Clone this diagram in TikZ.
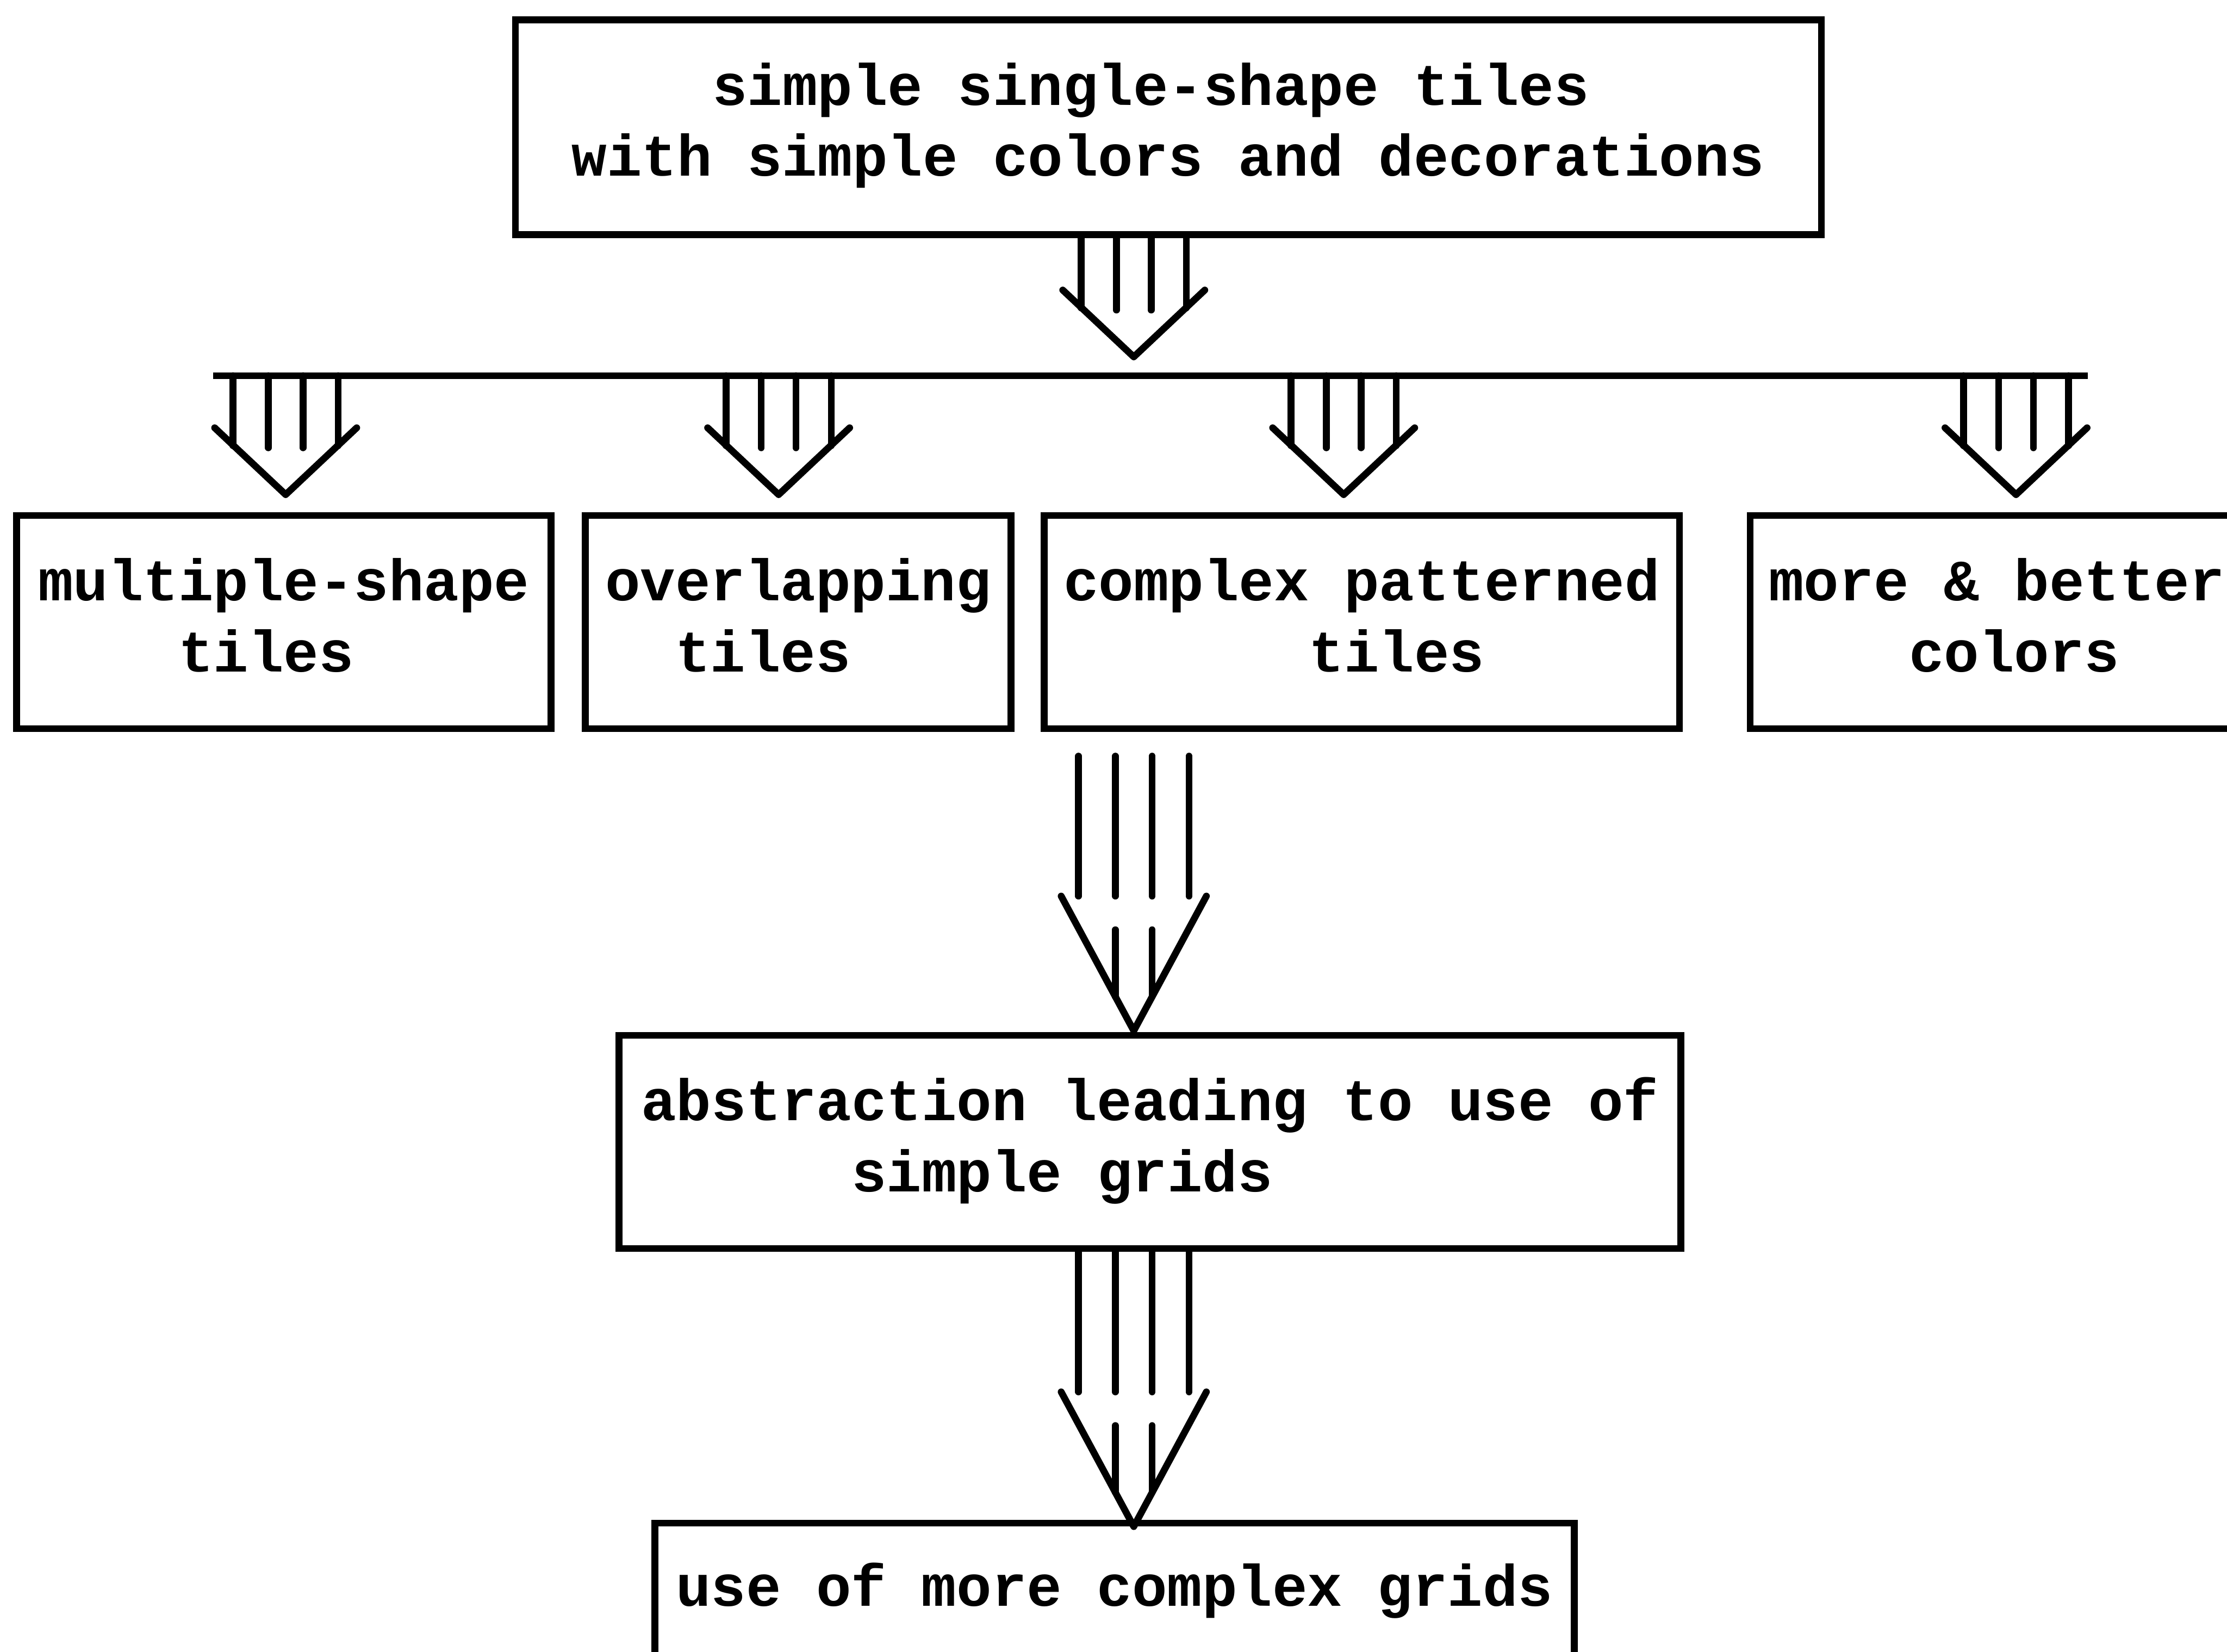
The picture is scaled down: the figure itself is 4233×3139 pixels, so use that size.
\documentclass[tikz,border=0pt]{standalone}
\usepackage{fontspec}
\newfontfamily\tilefont{Liberation Mono}

\begin{document}
\begin{tikzpicture}[
x=0.01cm, y=-0.01cm,
box/.style={
  draw,
  line width=3.7pt,
  anchor=north west,
  align=left,
  inner sep=0pt,
  text height=2.97cm,
  text depth=1.08cm,
  font=\tilefont\bfseries\fontsize{31.6pt}{38.4pt}\selectfont
},
stem/.style={line width=3.7pt, line cap=round, line join=round},
shortarrow/.pic={
  \draw [stem] (-100,0) -- (-100,133);
  \draw [stem] (100,0) -- (100,133);
  \draw [stem] (-33,0) -- (-33,137);
  \draw [stem] (33,0) -- (33,137);
  \draw [stem] (-135,99) -- (0,226) -- (135,99);
},
longarrow/.pic={
  \draw [stem] (-105,0) -- (-105,266);
  \draw [stem] (-35,0) -- (-35,266);
  \draw [stem] (35,0) -- (35,266);
  \draw [stem] (105,0) -- (105,266);
  \draw [stem] (-138,266) -- (0,522) -- (138,266);
  \draw [stem] (-35,330) -- (-35,457);
  \draw [stem] (35,330) -- (35,457);
}
]
\clip (7,7) rectangle (4240,3146);

\node (top) at (980,38) [box, minimum width=24.81cm, text depth=1.11cm]
  {~~~~simple single-shape tiles\\with simple colors and decorations};

\node (multi) at (32,980) [box, minimum width=10.15cm]
  {multiple-shape\\~~~~tiles};
\node (overlap) at (1113,980) [box, minimum width=8.09cm]
  {overlapping\\~~tiles};
\node (complex) at (1985,980) [box, minimum width=12.07cm]
  {complex patterned\\~~~~~~~tiles};
\node (colors) at (3327,980) [box, minimum width=9.37cm]
  {more \& better\\~~~~colors};

\node (abstract) at (1177,1968) [box, minimum width=20.17cm]
  {abstraction leading to use of\\~~~~~~simple grids};
\node (grids) at (1245,2895) [box, minimum width=17.47cm, text height=1.58cm, text depth=2.47cm]
  {use of more complex grids};

\coordinate (spine) at (2162,0);
\coordinate (bus-l) at (412,721);
\coordinate (bus-r) at (3975,721);
\coordinate (fork1) at (550,721);
\coordinate (fork2) at (1487,721);
\coordinate (fork3) at (2561,721);
\coordinate (fork4) at (3839,721);
\coordinate (drop) at (2162,1444);

\pic at (top.south -| spine) {shortarrow};
\draw [stem, line cap=butt] (bus-l) -- (bus-r);

\pic at (fork1) {shortarrow};
\pic at (fork2) {shortarrow};
\pic at (fork3) {shortarrow};
\pic at (fork4) {shortarrow};

\pic at (drop) {longarrow};
\pic at (abstract.south -| spine) {longarrow};

\end{tikzpicture}
\end{document}
